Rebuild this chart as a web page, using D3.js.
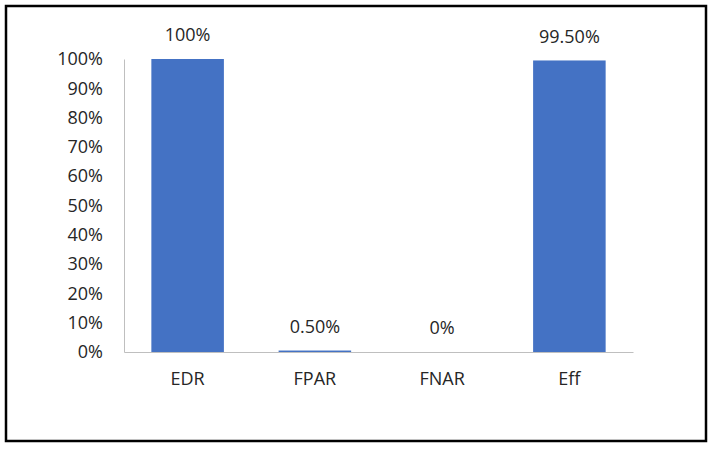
<!DOCTYPE html>
<html>
<head>
<meta charset="utf-8">
<script src="https://cdn.jsdelivr.net/npm/d3@7"></script>
<style>
    body { margin: 0; background: #fff; }
    svg text { font-family: "Open Sans", sans-serif; fill: #262626; }
</style>
</head>
<body>
<div id="chart"></div>
<script>
const categories = ['EDR', 'FPAR', 'FNAR', 'Eff'];
const values = [1.00, 0.005, 0.00, 0.995];
const valueLabels = ['100%', '0.50%', '0%', '99.50%'];
const yTicks = [0, 0.1, 0.2, 0.3, 0.4, 0.5, 0.6, 0.7, 0.8, 0.9, 1.0];

const width = 713;
const height = 450;
const margin = { top: 59, right: 80, bottom: 98, left: 124 };

const svg = d3.select('#chart')
    .append('svg')
    .attr('width', width)
    .attr('height', height);

// outer frame
svg.append('rect')
    .attr('x', 6)
    .attr('y', 6)
    .attr('width', 700)
    .attr('height', 435)
    .attr('fill', 'none')
    .attr('stroke', '#000')
    .attr('stroke-width', 2.5);

const x = d3.scaleBand()
    .domain(categories)
    .range([margin.left, width - margin.right])
    .paddingInner(0.43)
    .paddingOuter(0.215);

const y = d3.scaleLinear()
    .domain([0, 1])
    .range([height - margin.bottom, margin.top]);

const yAxis = d3.axisLeft(y)
    .tickValues(yTicks)
    .tickFormat(d3.format('.0%'))
    .tickSize(0)
    .tickPadding(21);

const gy = svg.append('g')
    .attr('transform', `translate(${margin.left},0)`)
    .call(yAxis);
gy.select('.domain').attr('stroke', '#bfbfbf');
gy.selectAll('text').style('font-size', '18px').style('fill', '#262626');

const xAxis = d3.axisBottom(x)
    .tickSize(0)
    .tickPadding(20);

const gx = svg.append('g')
    .attr('transform', `translate(0,${y(0)})`)
    .call(xAxis);
gx.select('.domain').attr('stroke', '#bfbfbf');
gx.selectAll('text').style('font-size', '18px').style('fill', '#262626');

svg.append('g')
    .selectAll('rect')
    .data(values)
    .enter()
    .append('rect')
    .attr('x', (d, i) => x(categories[i]))
    .attr('width', x.bandwidth())
    .attr('y', d => y(d))
    .attr('height', d => y(0) - y(d))
    .attr('fill', '#4472c4');

svg.append('g')
    .selectAll('text')
    .data(values)
    .enter()
    .append('text')
    .attr('x', (d, i) => x(categories[i]) + x.bandwidth() / 2)
    .attr('y', d => y(d) - 24)
    .attr('dy', '0.35em')
    .attr('text-anchor', 'middle')
    .style('font-size', '18px')
    .text((d, i) => valueLabels[i]);
</script>
</body>
</html>
